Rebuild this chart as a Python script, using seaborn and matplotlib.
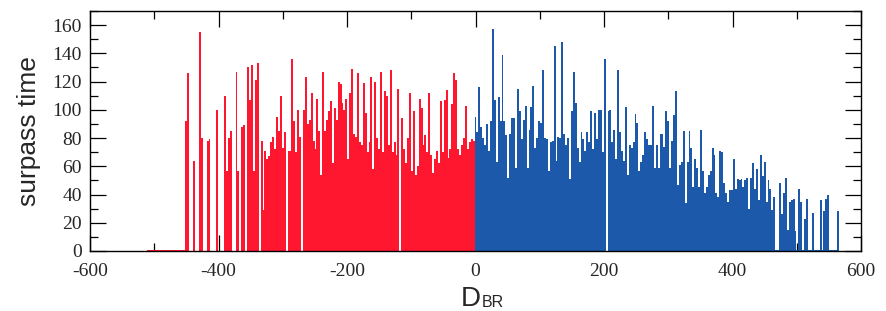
import numpy as np
import pandas as pd
import matplotlib
matplotlib.use("Agg")
import matplotlib.pyplot as plt
import seaborn as sns
from matplotlib.ticker import MultipleLocator

STEP = 3  # width of one D_BR bin

# surpass time per D_BR bin (each list starts at the given D_BR)
red_far = [1, 1, 1, 1, 1, 1, 1, 1, 1, 1, 1, 1, 1, 1, 1, 1, 1, 1, 1, 1,
           92, 126, 0, 0, 64, 0, 0, 155, 80, 0, 0, 78, 79, 0, 0, 0, 100, 0, 0, 0,
           110, 57, 80, 85, 0, 0, 127, 57, 0, 88, 89, 0, 130, 107, 132, 57, 121, 133, 0, 78]
red_mid = [29, 71, 65, 67, 77, 81, 72, 95, 85, 110, 73, 84, 0, 71, 71, 136, 92, 70, 100, 81,
           0, 100, 123, 90, 93, 112, 78, 72, 108, 85, 54, 127, 85, 93, 99, 106, 62, 101, 93, 120,
           118, 105, 100, 108, 65, 112, 129, 83, 81, 126, 77, 75, 119, 98, 70, 77, 123, 58, 120, 80]
red_near = [72, 127, 70, 113, 110, 75, 128, 70, 77, 68, 115, 0, 94, 72, 62, 80, 112, 57, 99, 54,
            60, 108, 101, 75, 82, 70, 112, 68, 55, 65, 71, 62, 106, 70, 107, 114, 66, 72, 104, 126,
            121, 72, 68, 75, 80, 103, 72, 77, 79, 78]
blue_near = [95, 84, 116, 88, 80, 75, 90, 71, 92, 157, 107, 63, 109, 92, 139, 92, 82, 52, 83, 94,
             94, 59, 115, 99, 79, 93, 103, 59, 86, 102, 117, 73, 80, 92, 91, 128, 80, 79, 57, 77,
             78, 145, 64, 81, 80, 148, 83, 75, 80, 51, 99, 127, 105, 73, 63, 84, 79, 71, 84, 77,
             99, 72, 98, 79, 100, 100, 70, 136, 0]
blue_mid = [99, 100, 77, 86, 65, 128, 84, 71, 64, 102, 54, 75, 73, 77, 97, 91, 57, 63, 68, 84,
            79, 75, 75, 103, 59, 75, 59, 83, 83, 74, 99, 92, 59, 78, 96, 113, 47, 61, 63, 85,
            34, 63, 85, 73, 45, 65, 59, 45, 86, 57, 41, 45, 54, 57, 73, 68, 41, 38, 71]
blue_far = [70, 48, 41, 35, 43, 43, 65, 44, 51, 50, 51, 45, 50, 52, 30, 52, 62, 44, 58, 36,
            68, 53, 63, 35, 50, 44, 29, 38, 1, 1, 48, 26, 41, 52, 15, 35, 36, 37, 14, 1,
            44, 35, 1, 23, 37, 1, 1, 27, 1, 1, 1, 36, 1, 28, 37, 40, 1, 1, 1, 1, 28]


def bins(start, vals):
    return pd.DataFrame({"d": start + STEP * np.arange(len(vals)), "t": vals})


red = pd.concat([bins(-510, red_far), bins(-330, red_mid), bins(-150, red_near)])
blue = pd.concat([bins(0, blue_near), bins(207, blue_mid), bins(384, blue_far)])

sns.set_style("ticks")
plt.rcParams["font.family"] = ["Liberation Serif", "DejaVu Serif"]
plt.rcParams["axes.unicode_minus"] = False

fig = plt.figure(figsize=(8.86, 3.11), dpi=100)
ax = fig.add_axes([0.1016, 0.193, 0.8702, 0.7716])

sns.barplot(data=red, x="d", y="t", native_scale=True, width=1, color="#ff1730",
            saturation=1, linewidth=0, errorbar=None, ax=ax)
sns.barplot(data=blue, x="d", y="t", native_scale=True, width=1, color="#1c59ab",
            saturation=1, linewidth=0, errorbar=None, ax=ax)

ax.set_xlim(-600, 600)
ax.set_ylim(0, 170)
ax.xaxis.set_major_locator(MultipleLocator(200))
ax.xaxis.set_minor_locator(MultipleLocator(100))
ax.yaxis.set_major_locator(MultipleLocator(20))
ax.yaxis.set_minor_locator(MultipleLocator(10))
ax.tick_params(which="both", direction="in", top=True, right=True, width=0.9,
               labelsize=14, color="black")
ax.tick_params(which="major", length=11.5)
ax.tick_params(which="minor", length=5.8)
ax.tick_params(axis="x", pad=8.5)
ax.tick_params(axis="y", pad=6)
for s in ax.spines.values():
    s.set_linewidth(1.0)
    s.set_color("black")

ax.set_ylabel("surpass time", family="Liberation Sans", fontsize=19, labelpad=8)
ax.set_xlabel("")
# D with a small BR subscript, as in the original axis title
fig.text(461 / 886, 1 - 306 / 311, "D", family="Liberation Sans", fontsize=20,
         ha="left", va="baseline")
fig.text(482 / 886, 1 - 307 / 311, "BR", family="Liberation Sans", fontsize=11.5,
         ha="left", va="baseline")

fig.savefig("out.png", dpi=100)
